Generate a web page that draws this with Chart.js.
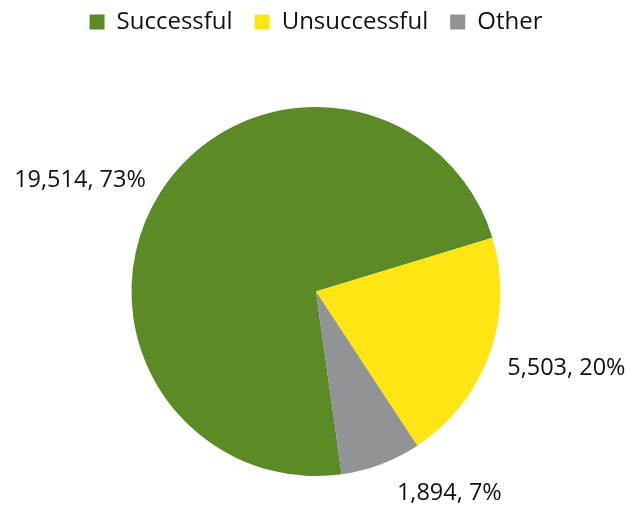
<!DOCTYPE html>
<html>
<head>
<meta charset="utf-8">
<script src="https://cdn.jsdelivr.net/npm/chart.js@4"></script>
<style>
html,body{margin:0;padding:0;background:#fff;}
#wrap{width:627px;height:506px;}
</style>
</head>
<body>
<div id="wrap"><canvas id="c" width="627" height="506"></canvas></div>
<script>
const categories = ["Successful", "Unsuccessful", "Other"];
const counts = [19514, 5503, 1894];
const percents = [73, 20, 7];
const colors = ["#5B8A27", "#FFE514", "#929396"];

const FONT = "'Open Sans', sans-serif";

const labelPlugin = {
  id: 'outLabels',
  afterLayout(chart) {
    const lg = chart.legend;
    if (lg) {
      const h = lg.bottom - lg.top;
      lg.top = -12;
      lg.bottom = lg.top + h;
    }
  },
  afterDatasetsDraw(chart, args, opts) {
    const ctx = chart.ctx;
    const meta = chart.getDatasetMeta(0);
    const nudges = opts.nudges || [];
    ctx.save();
    ctx.font = opts.fontSize + "px " + FONT;
    ctx.fillStyle = "#111";
    ctx.textBaseline = "middle";
    meta.data.forEach((arc, i) => {
      const mid = (arc.startAngle + arc.endAngle) / 2;
      const r = arc.outerRadius + 22;
      const n = nudges[i] || [0, 0];
      const x = arc.x + Math.cos(mid) * r + n[0];
      const y = arc.y + Math.sin(mid) * r + n[1];
      ctx.textAlign = Math.cos(mid) < 0 ? "right" : "left";
      const txt = counts[i].toLocaleString('en-US') + ", " + percents[i] + "%";
      ctx.fillText(txt, x, y);
    });
    ctx.restore();
  }
};

new Chart(document.getElementById('c'), {
  type: 'pie',
  data: {
    labels: categories,
    datasets: [{
      data: counts,
      backgroundColor: colors,
      borderWidth: 0
    }]
  },
  options: {
    responsive: false,
    animation: false,
    rotation: 172,
    layout: { padding: { top: 51, bottom: 30, left: 5, right: 0 } },
    plugins: {
      tooltip: { enabled: false },
      outLabels: { fontSize: 23.5, nudges: [[4, 0], [-3, 7], [8, 9]] },
      legend: {
        position: 'top',
        labels: {
          boxWidth: 15,
          boxHeight: 15,
          padding: 22,
          color: "#111",
          font: { family: FONT, size: 24 }
        }
      }
    }
  },
  plugins: [labelPlugin]
});
</script>
</body>
</html>
